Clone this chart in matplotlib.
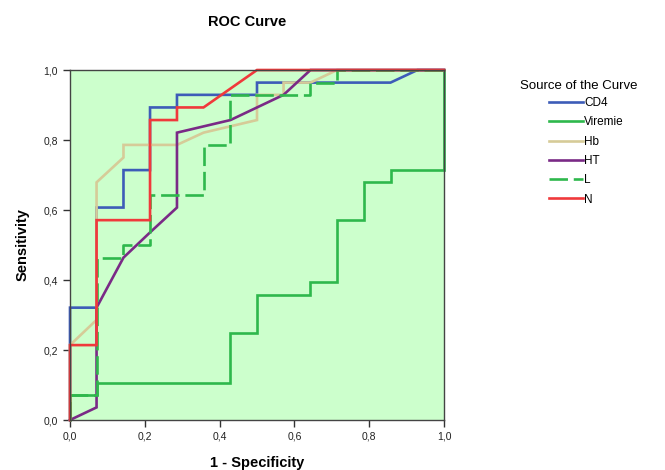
import matplotlib
matplotlib.use("Agg")
import matplotlib.pyplot as plt
from matplotlib.lines import Line2D

plt.rcParams['font.family'] = ['Liberation Sans', 'DejaVu Sans']

# ROC curve data (1 - specificity, sensitivity)
cd4_x = [0, 0, 0.071, 0.071, 0.143, 0.143, 0.214, 0.214, 0.286, 0.286, 0.5, 0.5, 0.857, 0.929, 1]
cd4_y = [0, 0.321, 0.321, 0.607, 0.607, 0.714, 0.714, 0.893, 0.893, 0.929, 0.929, 0.964, 0.964, 1, 1]

vir_x = [0, 0, 0.071, 0.071, 0.429, 0.429, 0.5, 0.5, 0.643, 0.643, 0.714, 0.714, 0.786, 0.786, 0.857, 0.857, 1, 1]
vir_y = [0, 0.071, 0.071, 0.107, 0.107, 0.25, 0.25, 0.357, 0.357, 0.393, 0.393, 0.571, 0.571, 0.679, 0.679, 0.714, 0.714, 1]

hb_x = [0, 0, 0.071, 0.071, 0.143, 0.143, 0.286, 0.357, 0.5, 0.5, 0.571, 0.571, 0.643, 0.714, 1]
hb_y = [0, 0.214, 0.286, 0.679, 0.75, 0.786, 0.786, 0.821, 0.857, 0.929, 0.929, 0.964, 0.964, 1, 1]

ht_x = [0, 0.071, 0.071, 0.143, 0.214, 0.286, 0.286, 0.429, 0.5, 0.571, 0.643, 1]
ht_y = [0, 0.036, 0.321, 0.464, 0.536, 0.607, 0.821, 0.857, 0.893, 0.929, 1, 1]

l_x = [0, 0, 0.071, 0.071, 0.143, 0.143, 0.214, 0.214, 0.357, 0.357, 0.429, 0.429, 0.643, 0.643, 0.714, 0.714, 1]
l_y = [0, 0.071, 0.071, 0.464, 0.464, 0.5, 0.5, 0.643, 0.643, 0.786, 0.786, 0.929, 0.929, 0.964, 0.964, 1, 1]

n_x = [0, 0, 0.071, 0.071, 0.214, 0.214, 0.286, 0.286, 0.357, 0.5, 1]
n_y = [0, 0.214, 0.214, 0.571, 0.571, 0.857, 0.857, 0.893, 0.893, 1, 1]

labels = ["CD4", "Viremie", "Hb", "HT", "L", "N"]
colors = ["#3D5CB8", "#2EB84C", "#D6CB98", "#7A2A86", "#2EB84C", "#F0393B"]
styles = ["-", "-", "-", "-", (0, (7, 2.2)), "-"]
ticks = [0.0, 0.2, 0.4, 0.6, 0.8, 1.0]
tick_labels = ["0,0", "0,2", "0,4", "0,6", "0,8", "1,0"]

fig = plt.figure(figsize=(6.65, 4.7), dpi=100)
ax = fig.add_axes([70 / 665, 50 / 470, 374 / 665, 350 / 470])
ax.set_facecolor("#CCFFCC")

series = [(cd4_x, cd4_y), (vir_x, vir_y), (hb_x, hb_y), (ht_x, ht_y), (l_x, l_y), (n_x, n_y)]
for (xs, ys), c, ls in zip(series, colors, styles):
    ax.plot(xs, ys, color=c, lw=1.9, ls=ls, solid_joinstyle='miter', clip_on=False)

ax.set_xlim(0, 1)
ax.set_ylim(0, 1)
ax.set_xticks(ticks)
ax.set_xticklabels(tick_labels)
ax.set_yticks(ticks)
ax.set_yticklabels(tick_labels)
ax.tick_params(direction='out', length=5, width=1, colors='#333333', labelsize=7.5, labelcolor='#222222')
for s in ax.spines.values():
    s.set_color('#444444')
    s.set_linewidth(1)

ax.set_xlabel("1 - Specificity", fontsize=10.5, fontweight='bold', labelpad=10)
ax.set_ylabel("Sensitivity", fontsize=10.5, fontweight='bold', labelpad=10)
fig.text(247 / 665, 1 - 22 / 470, "ROC Curve", fontsize=10.5, fontweight='bold', ha='center', va='center')

fig.text(520 / 665, 1 - 86 / 470, "Source of the Curve", fontsize=9.5, ha='left', va='center')
handles = [Line2D([0], [0], color=c, lw=1.9, ls=ls) for c, ls in zip(colors, styles)]
leg = fig.legend(handles, labels, loc='upper left', bbox_to_anchor=(549 / 665, 1 - 97 / 470),
                 frameon=False, fontsize=8.5, borderpad=0,
                 handlelength=2.9, handletextpad=0.1, labelspacing=0.62, borderaxespad=0)

fig.savefig("out.png", dpi=100)
